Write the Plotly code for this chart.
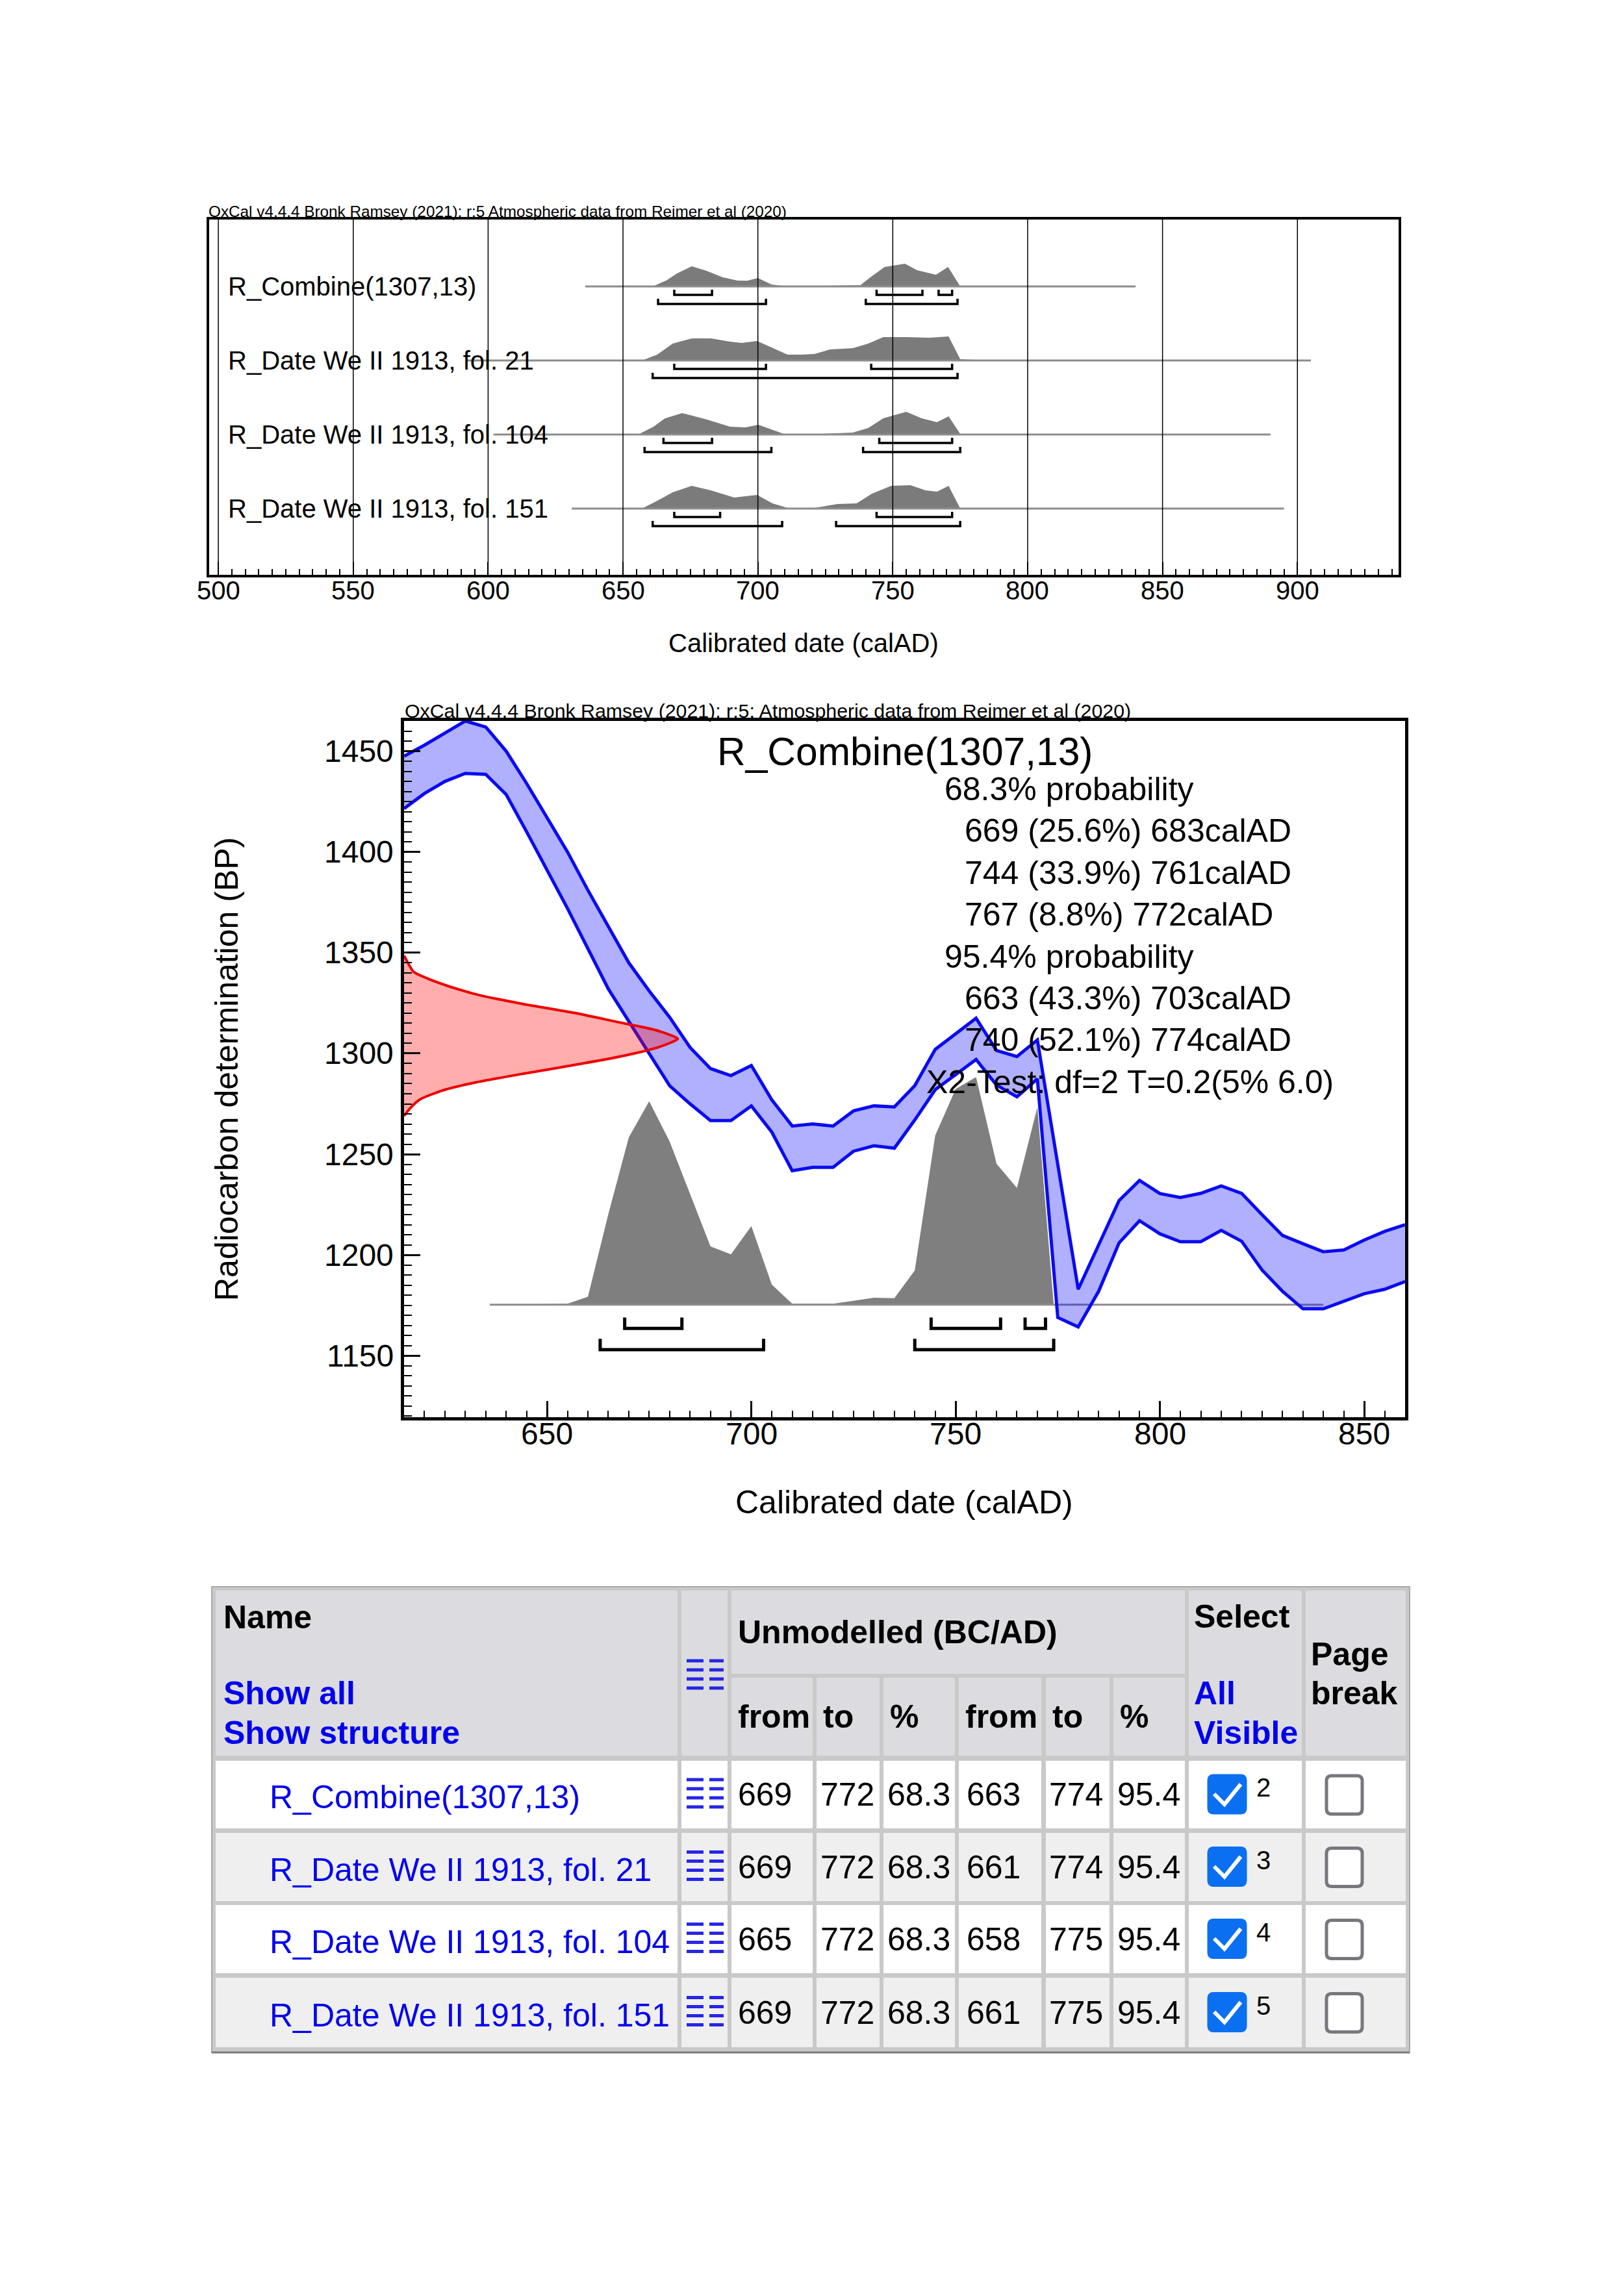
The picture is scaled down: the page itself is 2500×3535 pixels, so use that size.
import plotly.graph_objects as go

W, H = 2500, 3535
FONT = "Liberation Sans, Arial, Helvetica, sans-serif"
LINK = "#0000ee"


def px(x):
    return x / W


def py(y):
    return 1 - y / H


# ======================= DATA =======================
row_names = ["R_Combine(1307,13)", "R_Date We II 1913, fol. 21",
             "R_Date We II 1913, fol. 104", "R_Date We II 1913, fol. 151"]

# --- top multi-plot: probability outlines (calAD, relative height) ---
comb_years = [640, 661, 666, 670, 675.5, 681, 687, 692.5, 696, 700, 705, 710, 720, 730, 738, 742, 747, 754.5, 759, 766, 770.5, 775, 780]
comb_dens = [0, 0, 9, 20, 31, 24, 14, 9, 8.7, 13, 3, 0.5, 0.5, 1, 2, 15, 30, 35, 25, 18, 30, 0, 0]
fol21_years = [650, 657, 662.7, 668.4, 675.5, 682.6, 689.7, 694, 699.7, 705.4, 711, 716, 721, 726.7, 735.2, 740.9, 746.5, 755, 763.6, 770.7, 775, 780.6, 806]
fol21_dens = [0, 0, 9, 26, 34, 34, 29, 27, 30, 19, 9, 9, 10, 17, 19, 26, 36, 36, 35, 37, 2, 1, 0.3]
fol104_years = [650, 655.6, 661.3, 665.6, 672, 681.2, 689.7, 695.4, 700.2, 705.4, 709.6, 721, 735.2, 740.9, 746.5, 755, 760.7, 766.4, 770.7, 775, 778]
fol104_dens = [0, 0, 12, 25, 33, 23, 12, 11, 15, 7, 1, 0.5, 3, 10, 25, 35, 25, 19, 28, 1, 0]
fol151_years = [650, 657, 662.7, 668.4, 675.5, 682.6, 691.2, 699.7, 705.4, 711, 721, 729.5, 736.6, 742.3, 749.4, 756.5, 762.2, 766.4, 770.7, 775, 779]
fol151_dens = [0, 0, 12, 25, 35, 28, 17, 21, 8, 1, 1, 7, 8, 23, 35, 36, 28, 26, 35, 0, 0]
line_from = [636, 592, 602, 631]
line_to = [840, 905, 890, 895]
range68 = [[(669, 683), (744, 761), (767, 772)], [(669, 703), (742, 772)],
           [(665, 683), (745, 772)], [(669, 686), (744, 772)]]
range95 = [[(663, 703), (740, 774)], [(661, 774)],
           [(658, 705), (739, 775)], [(661, 709), (729, 775)]]
top_ticks = [500, 550, 600, 650, 700, 750, 800, 850, 900]

# --- calibration curve (calAD, BP) ---
cal_years = [615, 620, 625, 630, 635, 640, 645, 650, 655, 660,
             665, 670, 675, 680, 685, 690, 695, 700, 705, 710,
             715, 720, 725, 730, 735, 740, 745, 750, 755, 760,
             765, 770, 775, 780, 785, 790, 795, 800, 805, 810,
             815, 820, 825, 830, 835, 840, 845, 850, 855, 860]
cal_upper = [1447.5, 1453, 1459, 1465, 1462, 1450, 1434, 1417, 1400, 1381,
             1363, 1345, 1331, 1318, 1303, 1292.5, 1289, 1294, 1277, 1264,
             1265, 1264, 1271.5, 1274, 1273.5, 1284, 1302, 1310, 1317.5, 1301.5,
             1298.5, 1306.7, 1245, 1183, 1205, 1227, 1237, 1230.5, 1228.5, 1230.6,
             1234.3, 1230.6, 1220, 1209.7, 1205.6, 1201.6, 1202.5, 1207.4, 1211.7, 1215]
cal_lower = [1421.5, 1429, 1435, 1439, 1438.5, 1428.5, 1410, 1391, 1372, 1352,
             1332, 1316, 1300, 1284, 1275, 1266.7, 1266.7, 1274, 1261, 1241.8,
             1243.5, 1243.5, 1251.5, 1254.2, 1253, 1267, 1282, 1289.6, 1297, 1284.3,
             1278.5, 1287.4, 1169, 1164.3, 1182, 1206, 1217, 1210.5, 1206.6, 1206.6,
             1212.2, 1206.8, 1192.5, 1182, 1173.3, 1173.3, 1177, 1180.8, 1183, 1186.8]

# --- calibrated probability of R_Combine (calAD, relative height in BP units) ---
post_years = [636, 650, 655, 660, 665, 670, 675, 680, 685, 690, 695, 700, 705, 710, 715, 720,
              725, 730, 735, 740, 745, 750, 755, 760, 765, 770, 774, 780, 785]
post_dens = [0, 0.3, 0.5, 4, 45, 83, 101, 81, 55, 29, 25, 39, 10, 0.5, 0.5, 0.5,
             2, 3.5, 3.3, 17, 84, 107, 113, 70, 58, 98, 0, 0.5, 0]
post_line = (636, 840)
mid_range68 = [(669, 683), (744, 761), (767, 772)]
mid_range95 = [(663, 703), (740, 774)]

# --- radiocarbon determination 1307 +/- 13 BP (BP, relative width in years) ---
rc_bp = [1348.6, 1340.6, 1337.4, 1333.1, 1328.8, 1324.5, 1320.2, 1315.9, 1311.6, 1307.3,
         1303, 1298.6, 1294.4, 1290, 1285.7, 1281.5, 1277.2, 1272.9, 1269]
rc_width = [0, 2.3, 5.5, 11.3, 18.7, 29.3, 41.5, 51.6, 61.6, 67,
            62.1, 53.2, 42, 29.3, 17.7, 9.2, 3.9, 1.5, 0]

mid_title = "R_Combine(1307,13)"
summary_lines = ["68.3% probability", "669 (25.6%) 683calAD", "744 (33.9%) 761calAD",
                 "767 (8.8%) 772calAD", "95.4% probability", "663 (43.3%) 703calAD",
                 "740 (52.1%) 774calAD", "X2-Test: df=2 T=0.2(5% 6.0)"]
summary_indent = [0, 1, 1, 1, 0, 1, 1, -1]
mid_xticks = [650, 700, 750, 800, 850]
mid_yticks = [1150, 1200, 1250, 1300, 1350, 1400, 1450]

# --- table ---
tbl_from68 = [669, 669, 665, 669]
tbl_to68 = [772, 772, 772, 772]
tbl_pct68 = ["68.3", "68.3", "68.3", "68.3"]
tbl_from95 = [663, 661, 658, 661]
tbl_to95 = [774, 774, 775, 775]
tbl_pct95 = ["95.4", "95.4", "95.4", "95.4"]
tbl_index = [2, 3, 4, 5]
tbl_sub_headers = ["from", "to", "%", "from", "to", "%"]

header_top = "OxCal v4.4.4 Bronk Ramsey (2021); r:5 Atmospheric data from Reimer et al (2020)"
header_mid = "OxCal v4.4.4 Bronk Ramsey (2021); r:5; Atmospheric data from Reimer et al (2020)"
xtitle = "Calibrated date (calAD)"
ytitle = "Radiocarbon determination (BP)"

# ======================= FIGURE =======================
fig = go.Figure()
NOHOVER = dict(hoverinfo="skip", showlegend=False)

# ---------- top multi-plot ----------
TOP_PX = 114.0          # pixels per row
B68, B95, BTICK = -13 / TOP_PX, -27 / TOP_PX, 8 / TOP_PX
top_sets = [(comb_years, comb_dens), (fol21_years, fol21_dens),
            (fol104_years, fol104_dens), (fol151_years, fol151_dens)]
for i, (yrs, ds) in enumerate(top_sets):
    base = -i
    fig.add_trace(go.Scatter(x=list(yrs) + [yrs[-1], yrs[0]],
                             y=[base + d / TOP_PX for d in ds] + [base, base],
                             mode="lines", fill="toself", fillcolor="#7b7b7b",
                             line=dict(width=0, color="#7b7b7b"), xaxis="x", yaxis="y", **NOHOVER))
    fig.add_trace(go.Scatter(x=[line_from[i], line_to[i]], y=[base, base], mode="lines",
                             line=dict(color="#8c8c8c", width=3), xaxis="x", yaxis="y", **NOHOVER))
    for ranges, off in ((range68[i], B68), (range95[i], B95)):
        bx, by = [], []
        for a, b in ranges:
            yb = base + off
            bx += [a, a, b, b, None]
            by += [yb + BTICK, yb, yb, yb + BTICK, None]
        fig.add_trace(go.Scatter(x=bx, y=by, mode="lines", line=dict(color="black", width=3.5),
                                 xaxis="x", yaxis="y", **NOHOVER))

for v in top_ticks:
    fig.add_shape(type="line", xref="x", yref="y domain", x0=v, x1=v, y0=0, y1=1,
                  line=dict(color="black", width=1.5), layer="above")

annotations = []


def note(t, x, y, size, xref="paper", yref="paper", xanchor="left", **kw):
    annotations.append(dict(text=t, xref=xref, yref=yref, x=x, y=y, xanchor=xanchor,
                            yanchor="middle", showarrow=False, font=dict(size=size, color=kw.pop("color", "black")),
                            **kw))


for i, name in enumerate(row_names):
    note(name, px(349), -i, 40, yref="y")

# tick labels
for v in top_ticks:
    note(str(v), v, py(909), 40, xref="x", xanchor="center")
for v in mid_xticks:
    note(str(v), v, py(2207), 48, xref="x2", xanchor="center")
for v in mid_yticks:
    note(str(v), px(608), v, 48, yref="y2", xanchor="right")

# ---------- middle calibration plot ----------
MID_BASE = 1175.3
fig.add_trace(go.Scatter(x=post_years + [post_years[-1], post_years[0]],
                         y=[MID_BASE + d for d in post_dens] + [MID_BASE, MID_BASE],
                         mode="lines", fill="toself", fillcolor="#7f7f7f",
                         line=dict(width=0, color="#7f7f7f"), xaxis="x2", yaxis="y2", **NOHOVER))
fig.add_trace(go.Scatter(x=list(post_line), y=[MID_BASE, MID_BASE], mode="lines",
                         line=dict(color="#8c8c8c", width=3), xaxis="x2", yaxis="y2", **NOHOVER))
for ranges, off in ((mid_range68, -11.7), (mid_range95, -22.3)):
    bx, by = [], []
    for a, b in ranges:
        yb = MID_BASE + off
        bx += [a, a, b, b, None]
        by += [yb + 5.4, yb, yb, yb + 5.4, None]
    fig.add_trace(go.Scatter(x=bx, y=by, mode="lines", line=dict(color="black", width=5),
                             xaxis="x2", yaxis="y2", **NOHOVER))

fig.add_trace(go.Scatter(x=cal_years + cal_years[::-1], y=cal_upper + cal_lower[::-1],
                         mode="lines", fill="toself", fillcolor="rgba(0,0,255,0.31)",
                         line=dict(width=0), xaxis="x2", yaxis="y2", **NOHOVER))
for series in (cal_upper, cal_lower):
    fig.add_trace(go.Scatter(x=cal_years, y=series, mode="lines",
                             line=dict(color="#0b0bf0", width=5), xaxis="x2", yaxis="y2", **NOHOVER))

RC_X0 = 615
fig.add_trace(go.Scatter(x=[RC_X0 + w for w in rc_width], y=rc_bp, mode="lines",
                         fill="toself", fillcolor="rgba(255,0,0,0.32)",
                         line=dict(color="#ee0000", width=4, shape="spline", smoothing=0.6),
                         xaxis="x2", yaxis="y2", **NOHOVER))

note(mid_title, px(1102), py(1157), 60.5)
for k, (txt, ind) in enumerate(zip(summary_lines, summary_indent)):
    xl = {0: 1452, 1: 1483, -1: 1424}[ind]
    note(txt, px(xl), py(1215 + 64.4 * k), 50)

# ---------- titles / headers ----------
note(header_top, px(319), py(326), 24.3)
note(header_mid, px(621), py(1094), 30.3)
note(xtitle, px(1237), py(990), 40, xanchor="center")
note(xtitle, px(1392), py(2313), 50, xanchor="center")
note(ytitle, px(349), py(1646), 50, xanchor="center", textangle=-90)

# ---------- table ----------
shapes = []


def rect(x0, y0, x1, y1, fill, lc=None, lw=0):
    shapes.append(dict(type="rect", xref="paper", yref="paper", x0=px(x0), x1=px(x1),
                       y0=py(y1), y1=py(y0), fillcolor=fill,
                       line=dict(color=lc or fill, width=lw), layer="below"))


def rrect_path(x0, y0, x1, y1, r):
    pts = [("M", x0 + r, y0), ("L", x1 - r, y0), ("Q", x1, y0, x1, y0 + r), ("L", x1, y1 - r),
           ("Q", x1, y1, x1 - r, y1), ("L", x0 + r, y1), ("Q", x0, y1, x0, y1 - r),
           ("L", x0, y0 + r), ("Q", x0, y0, x0 + r, y0)]
    s = ""
    for p in pts:
        if p[0] == "Q":
            s += f"Q{px(p[1])},{py(p[2])} {px(p[3])},{py(p[4])} "
        else:
            s += f"{p[0]}{px(p[1])},{py(p[2])} "
    return s + "Z"


def text(t, x, y, size=50, color="black"):
    note(t, px(x), py(y), size, color=color)


def icon(cy):
    for dy in (-21, -7, 7, 21):
        for xa, xb in ((1057, 1083), (1092, 1114)):
            shapes.append(dict(type="line", xref="paper", yref="paper", x0=px(xa), x1=px(xb),
                               y0=py(cy + dy), y1=py(cy + dy),
                               line=dict(color="#2626e6", width=5)))


cols = [(332, 1043), (1049, 1120), (1126, 1251), (1257, 1354), (1360, 1470),
        (1476, 1603), (1610, 1708), (1714, 1824), (1830, 2004), (2010, 2164)]
rows = [(2711, 2815), (2822, 2927), (2933, 3038), (3045, 3152)]
HDR = "#dcdce0"
SEP = "#c9c9c9"

rect(326, 2443, 2170, 3160, SEP, "#a9a9a9", 2)
shapes.append(dict(type="line", xref="paper", yref="paper", x0=px(326), x1=px(2170),
                   y0=py(3160), y1=py(3160), line=dict(color="#7a7a7a", width=3)))
rect(332, 2449, 1043, 2703, HDR)
rect(1049, 2449, 1120, 2703, HDR)
rect(1126, 2449, 1824, 2577, HDR)
for (x0, x1) in cols[2:8]:
    rect(x0, 2583, x1, 2703, HDR)
rect(1830, 2449, 2004, 2703, HDR)
rect(2010, 2449, 2164, 2703, HDR)
for r, (y0, y1) in enumerate(rows):
    fill = "white" if r % 2 == 0 else "#efefef"
    for (x0, x1) in cols:
        rect(x0, y0, x1, y1, fill)

text("<b>Name</b>", 342, 2490)
text("<b>Show all</b>", 342, 2607, color=LINK)
text("<b>Show structure</b>", 342, 2668, color=LINK)
icon(2578)
text("<b>Unmodelled (BC/AD)</b>", 1134, 2513)
for (x0, x1), h in zip(cols[2:8], tbl_sub_headers):
    text(f"<b>{h}</b>", x0 + 8, 2643)
text("<b>Select</b>", 1836, 2489)
text("<b>All</b>", 1836, 2607, color=LINK)
text("<b>Visible</b>", 1836, 2668, color=LINK)
text("<b>Page</b>", 2016, 2547)
text("<b>break</b>", 2016, 2607)

for r, (y0, y1) in enumerate(rows):
    cy = (y0 + y1) / 2
    text(row_names[r], 413, cy + 4, color=LINK)
    icon(cy - 2)
    vals = [tbl_from68[r], tbl_to68[r], tbl_pct68[r], tbl_from95[r], tbl_to95[r], tbl_pct95[r]]
    lefts = [1134, 1261, 1364, 1486, 1613, 1718]
    for v, xl in zip(vals, lefts):
        text(str(v), xl, cy)
    shapes.append(dict(type="path", xref="paper", yref="paper",
                       path=rrect_path(1859, cy - 31, 1919, cy + 30, 9),
                       fillcolor="#0b6ff2", line=dict(color="#0b6ff2", width=1)))
    shapes.append(dict(type="path", xref="paper", yref="paper",
                       path=f"M{px(1869)},{py(cy - 1)} L{px(1885)},{py(cy + 15)} L{px(1910)},{py(cy - 16)}",
                       line=dict(color="white", width=6)))
    text(str(tbl_index[r]), 1932, cy - 11, size=40)
    shapes.append(dict(type="path", xref="paper", yref="paper",
                       path=rrect_path(2042, cy - 29, 2097, cy + 30, 8),
                       fillcolor="white", line=dict(color="#77777d", width=5)))

# ---------- layout ----------
axis_common = dict(showline=True, mirror=True, linecolor="black", zeroline=False,
                   showgrid=False, fixedrange=True, tickcolor="black", showticklabels=False)
fig.update_layout(
    width=W, height=H, margin=dict(l=0, r=0, t=0, b=0),
    paper_bgcolor="white", plot_bgcolor="white", showlegend=False,
    font=dict(family=FONT, color="black"),
    xaxis=dict(domain=[px(322), px(2153)], range=[496.6, 937.5], anchor="y",
               tickmode="array", tickvals=top_ticks, ticks="inside", ticklen=20, tickwidth=2,
               linewidth=4,
               minor=dict(ticks="inside", ticklen=9, tickwidth=1.5, tickcolor="black",
                          tickmode="linear", tick0=0, dtick=5, showgrid=False),
               **axis_common),
    yaxis=dict(domain=[py(885), py(338)], range=[-3.895, 0.9035], anchor="x",
               ticks="", linewidth=4, **axis_common),
    xaxis2=dict(domain=[px(622), px(2163)], range=[615, 860], anchor="y2",
                tickmode="array", tickvals=mid_xticks, ticks="inside", ticklen=25, tickwidth=2.5,
                linewidth=5,
                minor=dict(ticks="inside", ticklen=10, tickwidth=2, tickcolor="black",
                           tickmode="linear", tick0=0, dtick=5, showgrid=False),
                **axis_common),
    yaxis2=dict(domain=[py(2182), py(1110)], range=[1119.5, 1465], anchor="x2",
                tickmode="array", tickvals=mid_yticks, ticks="inside", ticklen=25, tickwidth=2.5,
                linewidth=5,
                minor=dict(ticks="inside", ticklen=12, tickwidth=2, tickcolor="black",
                           tickmode="linear", tick0=0, dtick=5, showgrid=False),
                **axis_common),
    annotations=annotations,
)
for s in shapes:
    fig.add_shape(**s)

fig.write_html("out.html",
               post_script="document.body.style.margin='0px';document.body.style.overflow='hidden';")
